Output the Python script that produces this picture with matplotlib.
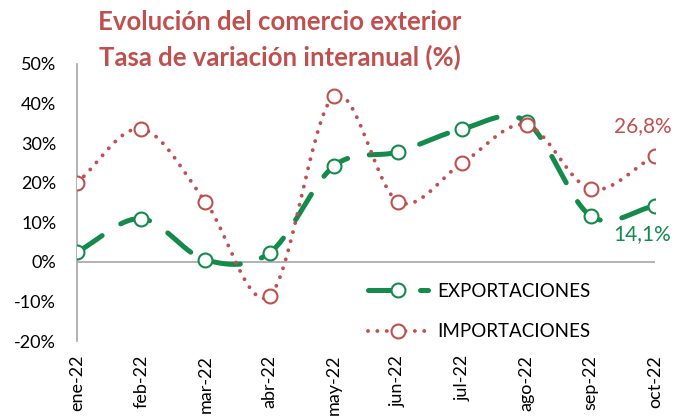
import numpy as np
import matplotlib.pyplot as plt

plt.rcParams['font.family'] = ['Lato', 'DejaVu Sans']

months = ['ene-22', 'feb-22', 'mar-22', 'abr-22', 'may-22',
          'jun-22', 'jul-22', 'ago-22', 'sep-22', 'oct-22']
exportaciones = [2.5, 10.9, 0.5, 2.3, 24.2, 27.8, 33.6, 35.4, 11.6, 14.1]
importaciones = [20.0, 33.6, 15.2, -8.6, 41.9, 15.2, 25.0, 34.6, 18.4, 26.8]

GREEN = '#148A4B'
RED = '#C0504D'


def smooth(x, y, n=30):
    # Catmull-Rom curve through the points, like Excel's smoothed line
    p = np.column_stack([x, y]).astype(float)
    p = np.vstack([2 * p[0] - p[1], p, 2 * p[-1] - p[-2]])
    out = []
    t = np.linspace(0, 1, n, endpoint=False)[:, None]
    for i in range(1, len(p) - 2):
        p0, p1, p2, p3 = p[i - 1], p[i], p[i + 1], p[i + 2]
        seg = 0.5 * ((2 * p1) + (-p0 + p2) * t + (2 * p0 - 5 * p1 + 4 * p2 - p3) * t ** 2
                     + (-p0 + 3 * p1 - 3 * p2 + p3) * t ** 3)
        out.append(seg)
    out.append(p[-2][None, :])
    out = np.vstack(out)
    return out[:, 0], out[:, 1]


fig = plt.figure(figsize=(6.79, 4.2), dpi=100)
ax = fig.add_axes([77 / 679, 1 - 341 / 420, (655 - 77) / 679, (341 - 64) / 420])

x = np.arange(len(months))

exp_style = dict(color=GREEN, lw=3.6, dashes=(6, 4.4), dash_capstyle='round')
imp_style = dict(color=RED, lw=2.8, dashes=(0.01, 2.4), dash_capstyle='round')
mk = dict(marker='o', ms=10, mfc='white', mew=1.5)

sx, sy = smooth(x, exportaciones)
ax.plot(sx, sy, zorder=3, **exp_style)
ax.plot(x, exportaciones, ls='none', mec=GREEN, zorder=4, **mk)

sx, sy = smooth(x, importaciones)
ax.plot(sx, sy, zorder=5, **imp_style)
ax.plot(x, importaciones, ls='none', mec=RED, zorder=6, **mk)

# legend handles
h1, = ax.plot([], [], mec=GREEN, **exp_style, **mk)
h2, = ax.plot([], [], mec=RED, **imp_style, **mk)
ax.legend([h1, h2], ['EXPORTACIONES', 'IMPORTACIONES'], loc='upper left',
          bbox_to_anchor=(368 / 679, 1 - 283 / 420), bbox_transform=fig.transFigure,
          frameon=False, fontsize=13.5, borderpad=0, borderaxespad=0,
          handlelength=3.2, labelspacing=1.25, handletextpad=0.5)

ax.annotate('26,8%', (x[-1], importaciones[-1]), xytext=(-9, 14), textcoords='offset points',
            ha='center', va='bottom', color=RED, fontsize=15)
ax.annotate('14,1%', (x[-1], exportaciones[-1]), xytext=(-9, -13), textcoords='offset points',
            ha='center', va='top', color=GREEN, fontsize=15)

ax.axhline(0, color='#A6A6A6', lw=1.2, zorder=1)
ax.set_xlim(0, 9)
ax.set_ylim(-20, 50)
ax.set_yticks(range(-20, 51, 10))
ax.set_yticklabels([f'{v}%' for v in range(-20, 51, 10)], fontsize=13)
ax.set_xticks(x)
ax.set_xticklabels(months, rotation=90, fontsize=13)
ax.tick_params(axis='both', length=0, colors='black')
ax.tick_params(axis='y', pad=15)
ax.tick_params(axis='x', pad=10)
for s in ['top', 'right', 'bottom']:
    ax.spines[s].set_visible(False)
ax.spines['left'].set_color('#A6A6A6')
ax.spines['left'].set_linewidth(1.2)

fig.text(280 / 679, 1 - 22 / 420, 'Evolución del comercio exterior', ha='center', va='center',
         color=RED, fontsize=18.5, fontweight='bold')
fig.text(280 / 679, 1 - 57 / 420, 'Tasa de variación interanual (%)', ha='center', va='center',
         color=RED, fontsize=18.5, fontweight='bold')

fig.savefig('out.png', dpi=100)
